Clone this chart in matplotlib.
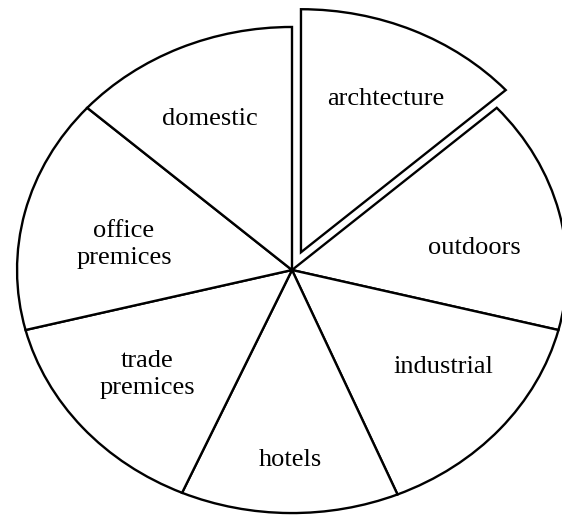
import matplotlib
matplotlib.use("Agg")
import numpy as np
import matplotlib.pyplot as plt

# slice labels and sizes (clockwise from 12 o'clock)
labels = ["archtecture", "outdoors", "industrial", "hotels",
          "trade\npremices", "office\npremices", "domestic"]
sizes = [48, 56, 53, 46, 52, 56, 48]
explode = [0.08, 0, 0, 0, 0, 0, 0]

# label placement: fraction of radius, and small turn (deg) off the wedge middle
label_dist = [0.70, 0.67, 0.68, 0.78, 0.68, 0.62, 0.69]
label_turn = [-2, -6, 5, 0, -1, 4, 1.5]

plt.rcParams['font.family'] = ['Liberation Serif', 'DejaVu Serif']

fig = plt.figure(figsize=(5.62, 5.15), dpi=100)
ax = fig.add_axes([0, 0, 1, 1])

wedges, texts = ax.pie(sizes, labels=labels, explode=explode,
                       startangle=90, counterclock=False,
                       colors=['white'] * len(sizes),
                       wedgeprops={'edgecolor': 'black', 'linewidth': 1.7},
                       textprops={'fontsize': 19, 'color': 'black'})
for w, t, d, turn in zip(wedges, texts, label_dist, label_turn):
    mid = np.deg2rad((w.theta1 + w.theta2) / 2 + turn)
    cx, cy = w.center
    t.set_position((cx + d * np.cos(mid), cy + d * np.sin(mid)))
    t.set_ha('center')
    t.set_va('center')
    t.set_linespacing(1.3)

# stretch into an ellipse
ax.set_aspect('auto')
ax.set_xlim(-1.062, 0.982)
ax.set_ylim(-1.008, 1.111)
ax.axis('off')

fig.savefig("out.png", dpi=100, facecolor='white')
